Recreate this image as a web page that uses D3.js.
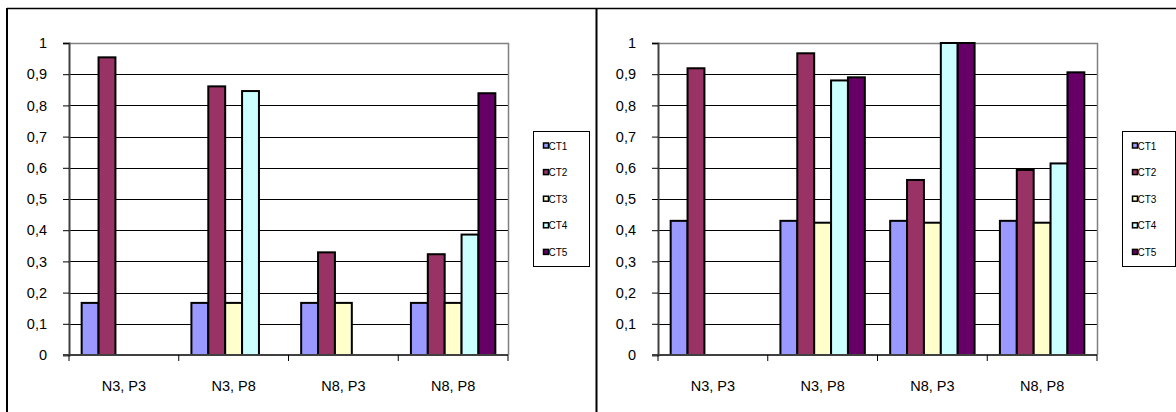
<!DOCTYPE html>
<html>
<head>
<meta charset="utf-8">
<script src="https://cdn.jsdelivr.net/npm/d3@7"></script>
<style>
  html, body { margin: 0; padding: 0; background: #fff; }
  svg { display: block; font-family: "Liberation Sans", Arial, sans-serif; }
</style>
</head>
<body>
<svg id="chart" width="1176" height="412"></svg>
<script>
// Categories, series and values for the two panels
const categories = ["N3, P3", "N3, P8", "N8, P3", "N8, P8"];
const seriesNames = ["CT1", "CT2", "CT3", "CT4", "CT5"];
const seriesColors = ["#9999FF", "#993366", "#FFFFCC", "#CCFFFF", "#660066"];
const yTicks = [0, 0.1, 0.2, 0.3, 0.4, 0.5, 0.6, 0.7, 0.8, 0.9, 1];

// values[category][series]
const leftValues = [
  [0.167, 0.954, 0, 0, 0],
  [0.167, 0.861, 0.167, 0.846, 0],
  [0.167, 0.329, 0.167, 0, 0],
  [0.167, 0.323, 0.167, 0.386, 0.839]
];
const rightValues = [
  [0.430, 0.919, 0, 0, 0],
  [0.430, 0.967, 0.424, 0.880, 0.890],
  [0.430, 0.561, 0.424, 1.0, 1.0],
  [0.430, 0.593, 0.424, 0.614, 0.906]
];

const svg = d3.select("#chart");

// Outer frame lines
svg.append("line").attr("x1", 7).attr("x2", 1176).attr("y1", 8.5).attr("y2", 8.5)
  .attr("stroke", "#000").attr("stroke-width", 1.5);
svg.append("line").attr("x1", 7).attr("x2", 7).attr("y1", 8).attr("y2", 412)
  .attr("stroke", "#000").attr("stroke-width", 2);
svg.append("line").attr("x1", 596.5).attr("x2", 596.5).attr("y1", 8).attr("y2", 412)
  .attr("stroke", "#000").attr("stroke-width", 2);

function drawPanel(values, opts) {
  const g = svg.append("g");
  const x0 = opts.plotLeft, x1 = opts.plotRight;
  const yTop = 43, yBottom = 355;

  const x = d3.scaleBand().domain(categories).range([x0, x1]).padding(0);
  const xs = d3.scaleBand().domain(seriesNames).range([0, x.bandwidth()])
    .paddingInner(0).paddingOuter(0.75);
  const y = d3.scaleLinear().domain([0, 1]).range([yBottom, yTop]);

  // Gridlines
  g.append("g").selectAll("line").data(yTicks.filter(t => t > 0 && t < 1)).join("line")
    .attr("x1", x0).attr("x2", x1)
    .attr("y1", d => Math.round(y(d)) + 0.5).attr("y2", d => Math.round(y(d)) + 0.5)
    .attr("stroke", "#000").attr("stroke-width", 1);

  // Plot area border (top and right)
  g.append("path")
    .attr("d", `M${x0},${y(1) + 0.5}H${x1 + 0.5}V${yBottom}`)
    .attr("fill", "none").attr("stroke", "#808080").attr("stroke-width", 1.5);

  // Bars
  const groups = g.append("g").selectAll("g").data(values).join("g")
    .attr("transform", (d, i) => `translate(${x(categories[i])},0)`);
  groups.selectAll("rect")
    .data(d => d.map((v, j) => ({ v, j })).filter(o => o.v > 0))
    .join("rect")
    .attr("x", o => xs(seriesNames[o.j]))
    .attr("width", xs.bandwidth())
    .attr("y", o => y(o.v))
    .attr("height", o => y(0) - y(o.v))
    .attr("fill", o => seriesColors[o.j])
    .attr("stroke", "#000").attr("stroke-width", 2);

  // Y axis
  const yAxis = d3.axisLeft(y).tickValues(yTicks).tickSize(6).tickPadding(16)
    .tickFormat(d => d === 0 ? "0" : d === 1 ? "1" : d3.format(".1f")(d).replace(".", ","));
  const ya = g.append("g").attr("transform", `translate(${x0},0)`).call(yAxis);
  ya.select(".domain").attr("stroke", "#404040").attr("stroke-width", 2);
  ya.selectAll(".tick line").attr("stroke", "#000").attr("stroke-width", 1);
  ya.selectAll("text").attr("font-size", 14.5).attr("fill", "#000")
    .attr("font-family", "'Liberation Sans', Arial, sans-serif");

  // X axis with boundary ticks
  const xa = g.append("g").attr("transform", `translate(0,${yBottom})`);
  xa.append("line").attr("x1", x0 - 6).attr("x2", x1).attr("y1", 0).attr("y2", 0)
    .attr("stroke", "#404040").attr("stroke-width", 2);
  const bounds = categories.map(c => x(c)).concat([x1]);
  xa.selectAll("line.tk").data(bounds).join("line").attr("class", "tk")
    .attr("x1", d => d).attr("x2", d => d).attr("y1", 0).attr("y2", 6)
    .attr("stroke", "#000").attr("stroke-width", 1);
  xa.selectAll("text").data(categories).join("text")
    .attr("x", d => x(d) + x.bandwidth() / 2).attr("y", 35.5)
    .attr("text-anchor", "middle").attr("font-size", 14.5).attr("fill", "#000")
    .text(d => d);

  // Legend
  const lg = g.append("g");
  lg.append("rect").attr("x", opts.legendLeft + 0.5).attr("y", 131.5)
    .attr("width", opts.legendWidth).attr("height", 135)
    .attr("fill", "#fff").attr("stroke", "#000").attr("stroke-width", 1);
  const items = lg.selectAll("g").data(seriesNames).join("g")
    .attr("transform", (d, i) => `translate(${opts.legendLeft + 10.5},${146 + i * 26.6})`);
  items.append("rect").attr("x", 0).attr("y", -3).attr("width", 5).attr("height", 5)
    .attr("fill", (d, i) => seriesColors[i]).attr("stroke", "#000").attr("stroke-width", 1.5);
  items.append("text").attr("x", 5).attr("y", 3.5).attr("font-size", 10).attr("fill", "#000")
    .text(d => d);
}

drawPanel(leftValues, { plotLeft: 69, plotRight: 508, legendLeft: 533, legendWidth: 56 });
drawPanel(rightValues, { plotLeft: 658, plotRight: 1097, legendLeft: 1122, legendWidth: 53 });
</script>
</body>
</html>
